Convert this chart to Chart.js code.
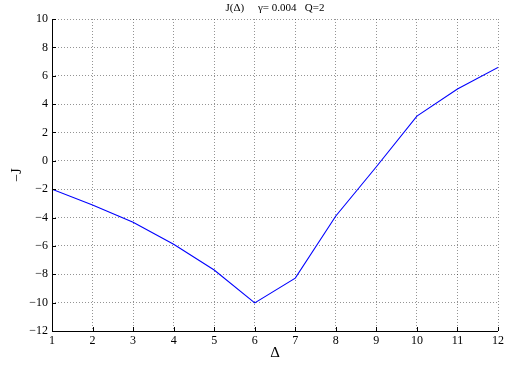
<!DOCTYPE html>
<html>
<head>
<meta charset="utf-8">
<script src="https://cdn.jsdelivr.net/npm/chart.js@4/dist/chart.umd.min.js"></script>
<style>
    html, body { margin: 0; padding: 0; background: #fff; }
    #wrap { width: 509px; height: 366px; }
</style>
</head>
<body>
<div id="wrap"><canvas id="jChart" width="509" height="366"></canvas></div>
<script>
    // data
    const deltas  = [1, 2, 3, 4, 5, 6, 7, 8, 9, 10, 11, 12];
    const minusJ  = [-2.0, -3.12, -4.34, -5.89, -7.7, -10.02, -8.27, -3.89, -0.42, 3.15, 5.06, 6.59];
    const yTicks  = [-12, -10, -8, -6, -4, -2, 0, 2, 4, 6, 8, 10];
    const titleText = "J(\u0394)     \u03b3= 0.004   Q=2";

    const serif = "'Liberation Serif', 'DejaVu Serif', serif";

    // title centred over the plot area, like matlab
    const titlePlugin = {
        id: "plotTitle",
        afterDraw(chart) {
            const ctx = chart.ctx;
            const a = chart.chartArea;
            ctx.save();
            ctx.font = "11px " + serif;
            ctx.fillStyle = "#000";
            ctx.textAlign = "center";
            ctx.textBaseline = "middle";
            ctx.fillText(titleText, (a.left + a.right) / 2, 8);
            ctx.restore();
        }
    };

    // short inward tick marks + solid axis lines on left / bottom
    const innerTicks = {
        id: "innerTicks",
        afterDatasetsDraw(chart) {
            const ctx = chart.ctx;
            const a = chart.chartArea;
            const xs = chart.scales.x, ys = chart.scales.y;
            ctx.save();
            ctx.strokeStyle = "#000";
            ctx.lineWidth = 1;
            ctx.setLineDash([]);
            ctx.beginPath();
            yTicks.forEach((v) => {
                const py = Math.round(ys.getPixelForValue(v)) + 0.5;
                ctx.moveTo(a.left, py);
                ctx.lineTo(a.left + 4, py);
            });
            deltas.forEach((v) => {
                const px = Math.round(xs.getPixelForValue(v)) + 0.5;
                ctx.moveTo(px, a.bottom);
                ctx.lineTo(px, a.bottom - 4);
            });
            ctx.moveTo(Math.round(a.left) + 0.5, a.top);
            ctx.lineTo(Math.round(a.left) + 0.5, a.bottom);
            ctx.moveTo(a.left, Math.round(a.bottom) + 0.5);
            ctx.lineTo(a.right, Math.round(a.bottom) + 0.5);
            ctx.stroke();
            ctx.restore();
        }
    };

    const gridStyle = {
        color: "rgba(0,0,0,0.42)",
        lineWidth: 1,
        drawTicks: false,
        tickLength: 0
    };

    new Chart(document.getElementById("jChart"), {
        type: "line",
        data: {
            datasets: [{
                data: deltas.map((d, i) => ({ x: d, y: minusJ[i] })),
                borderColor: "#0000ff",
                borderWidth: 1.1,
                pointRadius: 0,
                tension: 0,
                fill: false
            }]
        },
        options: {
            responsive: false,
            animation: false,
            layout: { padding: { top: 19, right: 11, left: 0, bottom: 0 } },
            plugins: {
                legend: { display: false },
                tooltip: { enabled: false }
            },
            scales: {
                x: {
                    type: "linear",
                    min: 1,
                    max: 12,
                    afterFit: (s) => { s.height = 35; },
                    grid: gridStyle,
                    border: { display: false, dash: [1, 2] },
                    ticks: {
                        stepSize: 1,
                        padding: 3,
                        color: "#000",
                        font: { family: serif, size: 12 }
                    },
                    title: {
                        display: true,
                        text: "\u0394",
                        color: "#000",
                        font: { family: serif, size: 15 },
                        padding: { top: 0, bottom: 4 }
                    }
                },
                y: {
                    min: -12,
                    max: 10,
                    afterFit: (s) => { s.width = 52; },
                    afterBuildTicks: (s) => { s.ticks = yTicks.map((v) => ({ value: v })); },
                    grid: gridStyle,
                    border: { display: false, dash: [1, 2] },
                    ticks: {
                        padding: 4,
                        color: "#000",
                        font: { family: serif, size: 12 },
                        callback: (v) => String(v).replace("-", "\u2212")
                    },
                    title: {
                        display: true,
                        text: "\u2212J",
                        color: "#000",
                        font: { family: serif, size: 14 },
                        padding: { top: 9, bottom: 0 }
                    }
                }
            }
        },
        plugins: [titlePlugin, innerTicks]
    });
</script>
</body>
</html>
